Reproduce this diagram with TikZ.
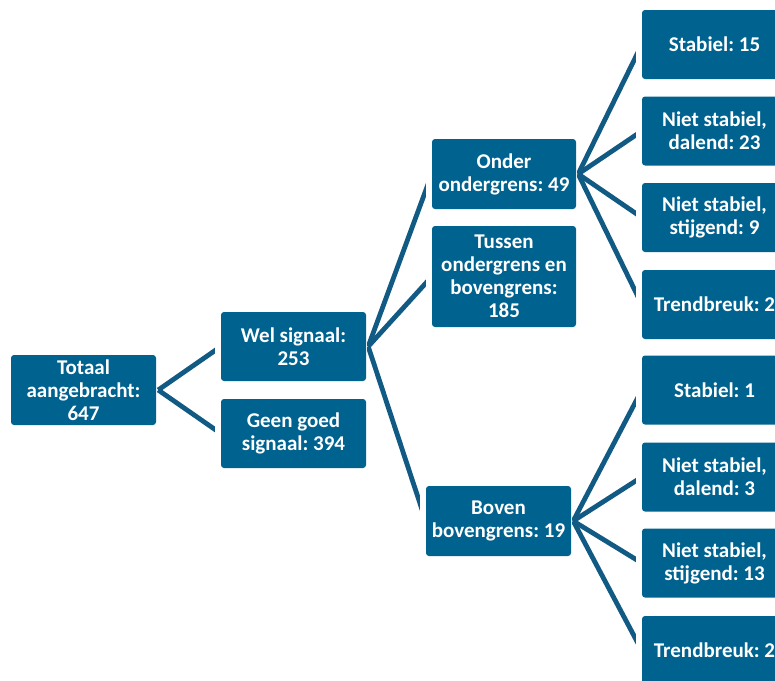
\documentclass[tikz,border=0pt]{standalone}
\usepackage{fontspec}
\setmainfont{Carlito}
\frenchspacing
\definecolor{boxblue}{HTML}{00628F}
\definecolor{linkblue}{HTML}{115A84}
\tikzset{
  box/.style={draw=none, fill=boxblue, rounded corners=3pt, text=white,
    align=center, inner sep=0pt, minimum width=145pt, minimum height=69pt,
    font=\bfseries\fontsize{21}{23}\selectfont},
  link/.style={draw=linkblue, line width=4.8pt, line cap=butt}
}
\begin{document}
\begin{tikzpicture}[x=1pt,y=-1pt]
\useasboundingbox (0,0) rectangle (775,680);
\clip (0,0) rectangle (775,680);
\coordinate (top) at (0,0);
\coordinate (bot) at (0,680);

% root and first level
\node[box, minimum height=70pt] (tot) at (83.5,390) {Totaal\\aangebracht:\\647};
\node[box] (wel)  at (293.5,346.5) {Wel signaal:\\253};
\node[box] (geen) at (293.5,433.5) {Geen goed\\signaal: 394};

% second level
\node[box, minimum width=144pt, minimum height=70pt] (onder) at (504,174) {Onder\\ondergrens: 49};
\node[box, minimum width=144pt, minimum height=101pt] (tussen) at (504,276.5) {Tussen\\ondergrens en\\bovengrens:\\185};
\node[box, minimum height=70pt] (boven) at (498.5,521) {Boven\\bovengrens: 19};

% third level, under the lower bound
\node[box] (oa) at (714.5,44.5)  {Stabiel: 15};
\node[box] (ob) at (714.5,131)   {Niet stabiel,\\dalend: 23};
\node[box] (oc) at (714.5,217.5) {Niet stabiel,\\stijgend: 9};
\node[box] (od) at (714.5,304.5) {Trendbreuk: 2};

% third level, above the upper bound
\node[box] (ba) at (714.5,390)   {Stabiel: 1};
\node[box] (bb) at (714.5,477)   {Niet stabiel,\\dalend: 3};
\node[box] (bc) at (714.5,563)   {Niet stabiel,\\stijgend: 13};
\node[box] (bd) at (714.5,650.5) {Trendbreuk: 2};

% connectors, cut off vertically just before the children
\begin{scope}
  \clip ([xshift=1pt]tot.east |- top) rectangle ([xshift=-6pt]wel.west |- bot);
  \draw[link] ([xshift=2pt]tot.east) -- (wel.west);
  \draw[link] ([xshift=2pt]tot.east) -- (geen.west);
\end{scope}
\begin{scope}
  \clip ([xshift=1pt]wel.east |- top) rectangle ([xshift=-6pt]onder.west |- bot);
  \draw[link] ([xshift=2pt]wel.east) -- (onder.west);
  \draw[link] ([xshift=2pt]wel.east) -- (tussen.west);
\end{scope}
\begin{scope}
  \clip ([xshift=1pt]wel.east |- top) rectangle ([xshift=-6pt]boven.west |- bot);
  \draw[link] ([xshift=2pt]wel.east) -- (boven.west);
\end{scope}
\begin{scope}
  \clip ([xshift=1pt]onder.east |- top) rectangle ([xshift=-6pt]oa.west |- bot);
  \foreach \c in {oa,ob,oc,od} {\draw[link] ([xshift=2pt]onder.east) -- (\c.west);}
\end{scope}
\begin{scope}
  \clip ([xshift=1pt]boven.east |- top) rectangle ([xshift=-6pt]ba.west |- bot);
  \foreach \c in {ba,bb,bc,bd} {\draw[link] ([xshift=2pt]boven.east) -- (\c.west);}
\end{scope}
\end{tikzpicture}
\end{document}
